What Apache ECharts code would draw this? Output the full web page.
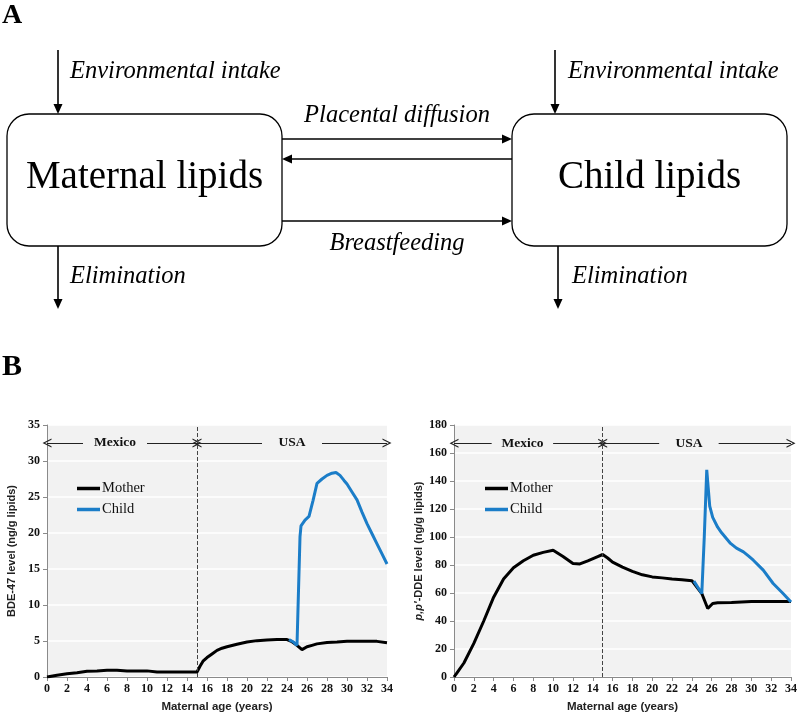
<!DOCTYPE html>
<html>
<head>
<meta charset="utf-8">
<script src="https://cdn.jsdelivr.net/npm/echarts@6/dist/echarts.min.js"></script>
<style>
html,body{margin:0;padding:0;background:#fff;}
#chart{width:800px;height:715px;}
</style>
</head>
<body>
<div id="chart"></div>
<script>
// ---------- DATA ----------
const xTicks = [0,2,4,6,8,10,12,14,16,18,20,22,24,26,28,30,32,34];
const seriesNames = ['Mother','Child'];
const regionNames = ['Mexico','USA'];
const regionBounds = [0, 15, 34];
const moveAge = 15;

const bdeMotherAge   = [0,1,2,3,4,5,6,7,8,9,10,11,12,13,14,15,15.3,15.6,16,16.5,17,17.5,18,19,20,21,22,23,24,24.5,25,25.5,26,26.5,27,28,29,30,31,32,33,34];
const bdeMotherLevel = [0,0.25,0.45,0.6,0.8,0.85,0.95,0.95,0.85,0.85,0.85,0.7,0.7,0.7,0.7,0.7,1.5,2.2,2.7,3.2,3.7,4.0,4.2,4.55,4.85,5.05,5.15,5.2,5.2,4.9,4.4,3.8,4.2,4.4,4.6,4.8,4.85,4.95,4.95,4.95,4.95,4.75];
const bdeChildAge    = [24.2,24.6,25.0,25.15,25.3,25.4,25.8,26.2,26.6,27,27.5,28,28.5,28.9,29.3,29.7,30,30.5,31,31.5,32,32.5,33,33.5,34];
const bdeChildLevel  = [5.2,4.9,4.4,12,19.5,21,21.8,22.3,24.5,26.9,27.5,28,28.3,28.4,28,27.3,26.8,25.7,24.6,22.9,21.3,19.9,18.5,17.1,15.7];

const ddeMotherAge   = [0,0.3,1,2,3,4,5,6,7,8,9,10,11,12,12.7,13.5,14.5,15,15.5,16,17,18,19,20,21,22,23,24,24.2,25,25.6,26.1,26.6,28,30,32,34];
const ddeMotherLevel = [0,3,10,24,40,57,70,78,83,87,89,90.5,86,81,80.8,83,86,87.5,85,82,78.5,75.5,73,71.5,70.8,70,69.5,68.8,68.5,59.6,48.9,52.5,53,53.2,54,54,54];
const ddeChildAge    = [24.2,25,25.25,25.5,25.65,25.8,26.1,26.6,27,27.9,28.5,29.2,29.7,30.2,31.2,32.2,33.2,34];
const ddeChildLevel  = [68.5,59.6,100,148,135,122,114,107,103,95.4,92,89.4,86.5,83.4,76.3,66.8,59.6,53.6];

// ---------- HELPERS ----------
const SERIF = '"Liberation Serif","Times New Roman",serif';
const SANS = '"Liberation Sans",Arial,sans-serif';
const zip = (a,b) => a.map((v,i)=>[v,b[i]]);
const chevron = 'path://M0,10 L5,0 L10,10 L8.6,10 L5,2.8 L1.4,10 Z';

function regionMarks(yLevel, labelCenters, labelHalf){
  const lines = [];
  const points = [];
  regionNames.forEach((name,i)=>{
    const a = regionBounds[i], b = regionBounds[i+1];
    const c = labelCenters[i], h = labelHalf[i];
    lines.push([{coord:[a,yLevel], symbol:chevron, symbolSize:[9,9]},{coord:[c-h,yLevel], symbol:'none'}]);
    lines.push([{coord:[c+h,yLevel], symbol:'none'},{coord:[b,yLevel], symbol:chevron, symbolSize:[9,9]}]);
    points.push({name:name, coord:[c,yLevel]});
  });
  return {lines, points};
}

const leftMarks = regionMarks(32.5, [6.8,24.5], [3.2,3.0]);
const rightMarks = regionMarks(167, [6.9,23.7], [3.1,3.0]);

function xAxisCfg(gi){
  return {
    gridIndex:gi, type:'value', min:0, max:34, interval:2,
    name:'Maternal age (years)', nameLocation:'middle', nameGap:24,
    nameTextStyle:{fontFamily:SANS, fontWeight:'bold', fontSize:11.5, color:'#222'},
    axisLine:{lineStyle:{color:'#8a8a8a', width:1}},
    axisTick:{show:true, length:4, lineStyle:{color:'#8a8a8a'}},
    axisLabel:{fontFamily:SERIF, fontWeight:'bold', fontSize:12, color:'#111', margin:6},
    splitLine:{show:false}
  };
}
function yAxisCfg(gi, max, interval, name, rich){
  return {
    gridIndex:gi, type:'value', min:0, max:max, interval:interval,
    name:name, nameLocation:'middle', nameGap:30,
    nameTextStyle:{fontFamily:SANS, fontWeight:'bold', fontSize:11, color:'#222', rich:rich},
    axisLine:{show:true, lineStyle:{color:'#8a8a8a', width:1}},
    axisTick:{show:true, length:4, lineStyle:{color:'#8a8a8a'}},
    axisLabel:{fontFamily:SERIF, fontWeight:'bold', fontSize:12, color:'#111', margin:7},
    splitLine:{show:true, lineStyle:{color:'#ffffff', width:1.5}}
  };
}

function annotSeries(gi, marks){
  return {
    type:'line', xAxisIndex:gi, yAxisIndex:gi, data:[], silent:true, z:5,
    markLine:{
      silent:true, symbol:'none', label:{show:false},
      lineStyle:{color:'#222', width:1, type:'solid'},
      emphasis:{disabled:true},
      data:[
        ...marks.lines,
        [{coord:[moveAge,0], symbol:'none'},{coord:[moveAge, gi===0?35:180], symbol:'none', lineStyle:{type:'dashed', color:'#444', width:1}}]
      ]
    },
    markPoint:{
      silent:true, symbol:'circle', symbolSize:0,
      label:{show:true, position:'inside', formatter:'{b}', fontFamily:SERIF, fontWeight:'bold', fontSize:13.5, color:'#111'},
      data:marks.points
    }
  };
}

function dataSeries(gi, name, x, y, color){
  return {
    type:'line', name:name, xAxisIndex:gi, yAxisIndex:gi,
    data:zip(x,y), symbol:'none', showSymbol:false, smooth:false,
    lineStyle:{color:color, width:3}, itemStyle:{color:color},
    z: name==='Child'?4:3, silent:true
  };
}

const BLACK = '#000000', BLUE = '#1b7dc8';

// ---------- DIAGRAM (panel A) ----------
function arrowDown(x, y1, y2){
  return [
    {type:'line', shape:{x1:x, y1:y1, x2:x, y2:y2-9}, style:{stroke:'#000', lineWidth:1.6}},
    {type:'polygon', shape:{points:[[x-4.5,y2-10],[x+4.5,y2-10],[x,y2]]}, style:{fill:'#000'}}
  ];
}
function arrowH(x1, x2, y){
  const dir = x2 > x1 ? 1 : -1;
  return [
    {type:'line', shape:{x1:x1, y1:y, x2:x2-dir*9, y2:y}, style:{stroke:'#000', lineWidth:1.6}},
    {type:'polygon', shape:{points:[[x2-dir*10,y-4.5],[x2-dir*10,y+4.5],[x2,y]]}, style:{fill:'#000'}}
  ];
}
function txt(x,y,text,font,align){
  return {type:'text', x:x, y:y, style:{text:text, font:font, fill:'#000', align:align||'left', verticalAlign:'middle'}};
}
const IT = 'italic 24.5px ' + SERIF;
const diagram = [
  txt(2, 16, 'A', 'bold 28px ' + SERIF),
  txt(2, 367, 'B', 'bold 30px ' + SERIF),
  {type:'rect', shape:{x:7, y:114, width:275, height:132, r:22}, style:{fill:'#fff', stroke:'#000', lineWidth:1.3}},
  {type:'rect', shape:{x:512, y:114, width:275, height:132, r:22}, style:{fill:'#fff', stroke:'#000', lineWidth:1.3}},
  txt(144.5, 178, 'Maternal lipids', '39px ' + SERIF, 'center'),
  txt(649.5, 178, 'Child lipids', '39px ' + SERIF, 'center'),
  ...arrowDown(58, 50, 114),
  ...arrowDown(555, 50, 114),
  ...arrowDown(58, 246, 309),
  ...arrowDown(558, 246, 309),
  ...arrowH(282, 512, 139),
  ...arrowH(512, 282, 159),
  ...arrowH(282, 512, 221),
  txt(70, 72, 'Environmental intake', IT),
  txt(568, 72, 'Environmental intake', IT),
  txt(70, 277, 'Elimination', IT),
  txt(572, 277, 'Elimination', IT),
  txt(397, 116, 'Placental diffusion', IT, 'center'),
  txt(397, 244, 'Breastfeeding', IT, 'center')
];

// ---------- CHART ----------
const chart = echarts.init(document.getElementById('chart'), null, {renderer:'canvas'});
const legendCfg = (left) => ({
  left:left, top:476, orient:'vertical', itemGap:6, itemWidth:23, itemHeight:3.5, icon:'rect',
  selectedMode:false, data:seriesNames,
  textStyle:{fontFamily:SERIF, fontSize:14.5, color:'#111', padding:[0,0,0,-3]}
});
chart.setOption({
  animation:false,
  backgroundColor:'#ffffff',
  graphic:diagram,
  grid:[
    {left:47, top:425, width:340, height:252, show:true, backgroundColor:'#f2f2f2', borderWidth:0},
    {left:454, top:425, width:340, height:252, show:true, backgroundColor:'#f2f2f2', borderWidth:0}
  ],
  legend:[legendCfg(72), legendCfg(480)],
  xAxis:[xAxisCfg(0), xAxisCfg(1)],
  yAxis:[
    yAxisCfg(0, 35, 5, 'BDE-47 level (ng/g lipids)'),
    yAxisCfg(1, 180, 20, '{i|p,p′}-DDE level (ng/g lipids)', {i:{fontFamily:SANS, fontWeight:'bold', fontStyle:'italic', fontSize:11, color:'#222'}})
  ],
  series:[
    annotSeries(0, leftMarks),
    annotSeries(1, rightMarks),
    dataSeries(0, 'Mother', bdeMotherAge, bdeMotherLevel, BLACK),
    dataSeries(0, 'Child', bdeChildAge, bdeChildLevel, BLUE),
    dataSeries(1, 'Mother', ddeMotherAge, ddeMotherLevel, BLACK),
    dataSeries(1, 'Child', ddeChildAge, ddeChildLevel, BLUE)
  ]
});
</script>
</body>
</html>
